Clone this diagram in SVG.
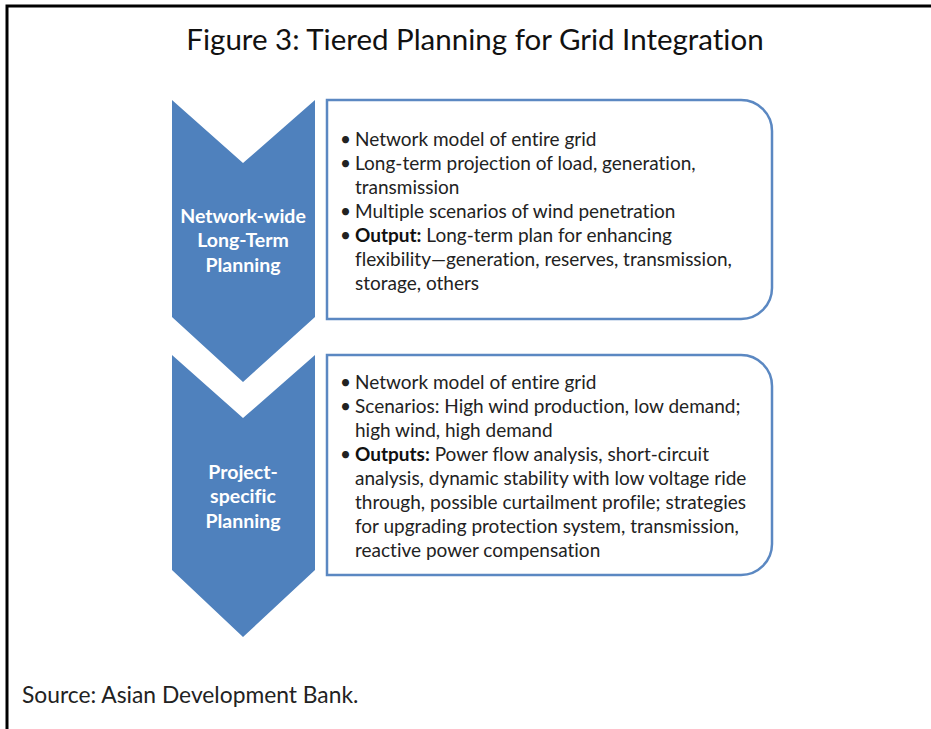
<svg xmlns="http://www.w3.org/2000/svg" width="931" height="729" viewBox="0 0 931 729">
  <style>
    text { font-variant-ligatures: none; font-feature-settings: "liga" 0, "clig" 0; }
    .frame { fill: none; stroke: #000; stroke-width: 3; }
    .chevron { fill: #4f81bd; }
    .panel { fill: #fff; stroke: #5b88c2; stroke-width: 2.5; }
    .title { font-family: Lato, "Open Sans", sans-serif; font-size: 29.5px; fill: #111; }
    .tier { font-family: Lato, "Open Sans", sans-serif; font-size: 19.5px; font-weight: bold; fill: #fff; text-anchor: middle; }
    .item { font-family: Lato, "Open Sans", sans-serif; font-size: 19px; fill: #222; }
    .item .b { font-weight: bold; fill: #111; }
    .source { font-family: Lato, "Open Sans", sans-serif; font-size: 22.8px; fill: #222; }
  </style>

  <rect width="931" height="729" fill="#fff"/>
  <!-- page frame: top and left rules only -->
  <path class="frame" d="M7,729 V6 H931"/>

  <text class="title" x="475" y="50" text-anchor="middle">Figure 3: Tiered Planning for Grid Integration</text>

  <!-- tier 1 -->
  <g id="tier-longterm">
    <polygon class="chevron" points="172,100 243,163 315,100 315,317 243,382 172,317"/>
    <text class="tier" x="243" y="223">Network-wide</text>
    <text class="tier" x="243" y="247">Long-Term</text>
    <text class="tier" x="243" y="272">Planning</text>
  </g>
  <g id="panel-longterm">
    <path class="panel" d="M327,100 H741 A31,31 0 0 1 772,131 V288 A31,31 0 0 1 741,319 H327 Z"/>
    <g class="item">
      <text x="340" y="146">•</text><text x="355" y="146">Network model of entire grid</text>
      <text x="340" y="170">•</text><text x="355" y="170">Long-term projection of load, generation,</text>
      <text x="355" y="194">transmission</text>
      <text x="340" y="218">•</text><text x="355" y="218">Multiple scenarios of wind penetration</text>
      <text x="340" y="242">•</text><text x="355" y="242"><tspan class="b">Output:</tspan> Long-term plan for enhancing</text>
      <text x="355" y="266">flexibility—generation, reserves, transmission,</text>
      <text x="355" y="290">storage, others</text>
    </g>
  </g>

  <!-- tier 2 -->
  <g id="tier-project">
    <polygon class="chevron" points="172,355 243,418 315,355 315,570 243,637 172,570"/>
    <text class="tier" x="243" y="479">Project-</text>
    <text class="tier" x="243" y="503">specific</text>
    <text class="tier" x="243" y="528">Planning</text>
  </g>
  <g id="panel-project">
    <path class="panel" d="M327,355 H741 A31,31 0 0 1 772,386 V544 A31,31 0 0 1 741,575 H327 Z"/>
    <g class="item">
      <text x="340" y="389">•</text><text x="355" y="389">Network model of entire grid</text>
      <text x="340" y="413">•</text><text x="355" y="413">Scenarios: High wind production, low demand;</text>
      <text x="355" y="437">high wind, high demand</text>
      <text x="340" y="461">•</text><text x="355" y="461"><tspan class="b">Outputs:</tspan>  Power flow analysis, short-circuit</text>
      <text x="355" y="485">analysis, dynamic stability with low voltage ride</text>
      <text x="355" y="509">through, possible curtailment profile; strategies</text>
      <text x="355" y="533">for upgrading protection system, transmission,</text>
      <text x="355" y="557">reactive power compensation</text>
    </g>
  </g>

  <!-- connectors: the chevrons abut directly, no separate lines -->
  <g id="connectors"></g>

  <text class="source" x="22" y="703">Source: Asian Development Bank.</text>
</svg>
